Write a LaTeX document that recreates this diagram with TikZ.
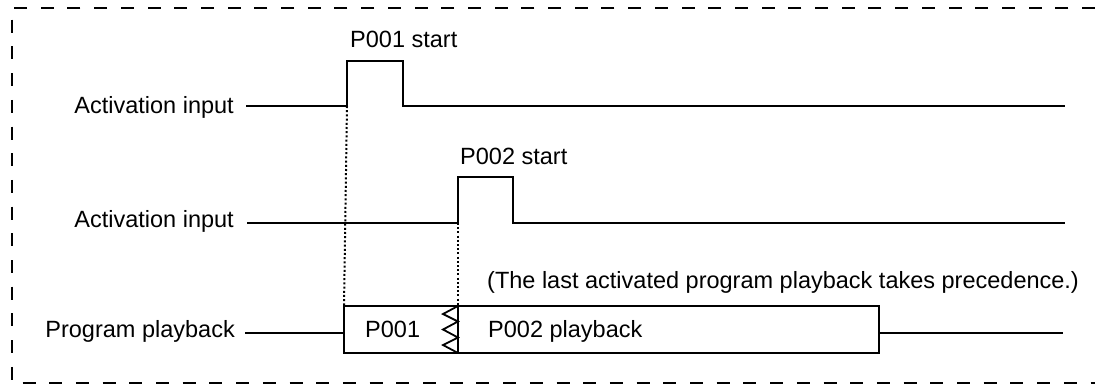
\documentclass[tikz,border=0pt]{standalone}
\usepackage{fontspec}
\setmainfont{Liberation Sans}
\begin{document}
\begin{tikzpicture}[x=1pt,y=-1pt,
  lbl/.style={font=\fontsize{23.5}{27}\selectfont, inner sep=0pt},
  sig/.style={line width=2pt, line join=miter},
  guide/.style={line width=2pt, dash pattern=on 2pt off 2.2pt},
  frame/.style={line width=1.5pt, dash pattern=on 13pt off 13.7pt}]
\useasboundingbox (0,0) rectangle (1095,389);
% frame
\draw[frame] (1095,8) -- (12,8) -- (12,383) -- (1095,383);
% labels
\node[lbl, anchor=base east] (a1) at (234,113) {Activation input};
\node[lbl, anchor=base east] (a2) at (234,227) {Activation input};
\node[lbl, anchor=base east] (pp) at (235,337) {Program playback};
\node[lbl, anchor=base west] (s1) at (350,47) {P001 start};
\node[lbl, anchor=base west] (s2) at (460,164) {P002 start};
\node[lbl, anchor=base west] (note) at (487,288) {(The last activated program playback takes precedence.)};
% signal 1
\coordinate (r1) at (347,106);
\coordinate (f1) at (403,106);
\draw[sig] (246,106) -- (r1) -- (347,61) -- (403,61) -- (f1) -- (1065,106);
% signal 2
\coordinate (r2) at (458,223);
\coordinate (f2) at (513,223);
\draw[sig] (247,223) -- (r2) -- (458,177) -- (513,177) -- (f2) -- (1065,223);
% playback
\coordinate (bL) at (344,306);
\coordinate (bD) at (458,306);
\draw[sig] (245,333) -- (344,333);
\draw[sig] (bL) rectangle (879,353);
\draw[sig] (879,333) -- (1063,333);
\draw[sig] (458,306) -- (458,353);
\draw[line width=1.8pt, line join=miter] (458,306) -- (443,314) -- (458,321.5) -- (443,329.5) -- (458,337.5) -- (443,345) -- (458,353);
\node[lbl, anchor=base west] (p1) at (365,337) {P001};
\node[lbl, anchor=base west] (p2) at (488,337) {P002 playback};
% guides
\draw[guide] (r1) -- (bL);
\draw[guide] (r2) -- (bD);
\end{tikzpicture}
\end{document}
